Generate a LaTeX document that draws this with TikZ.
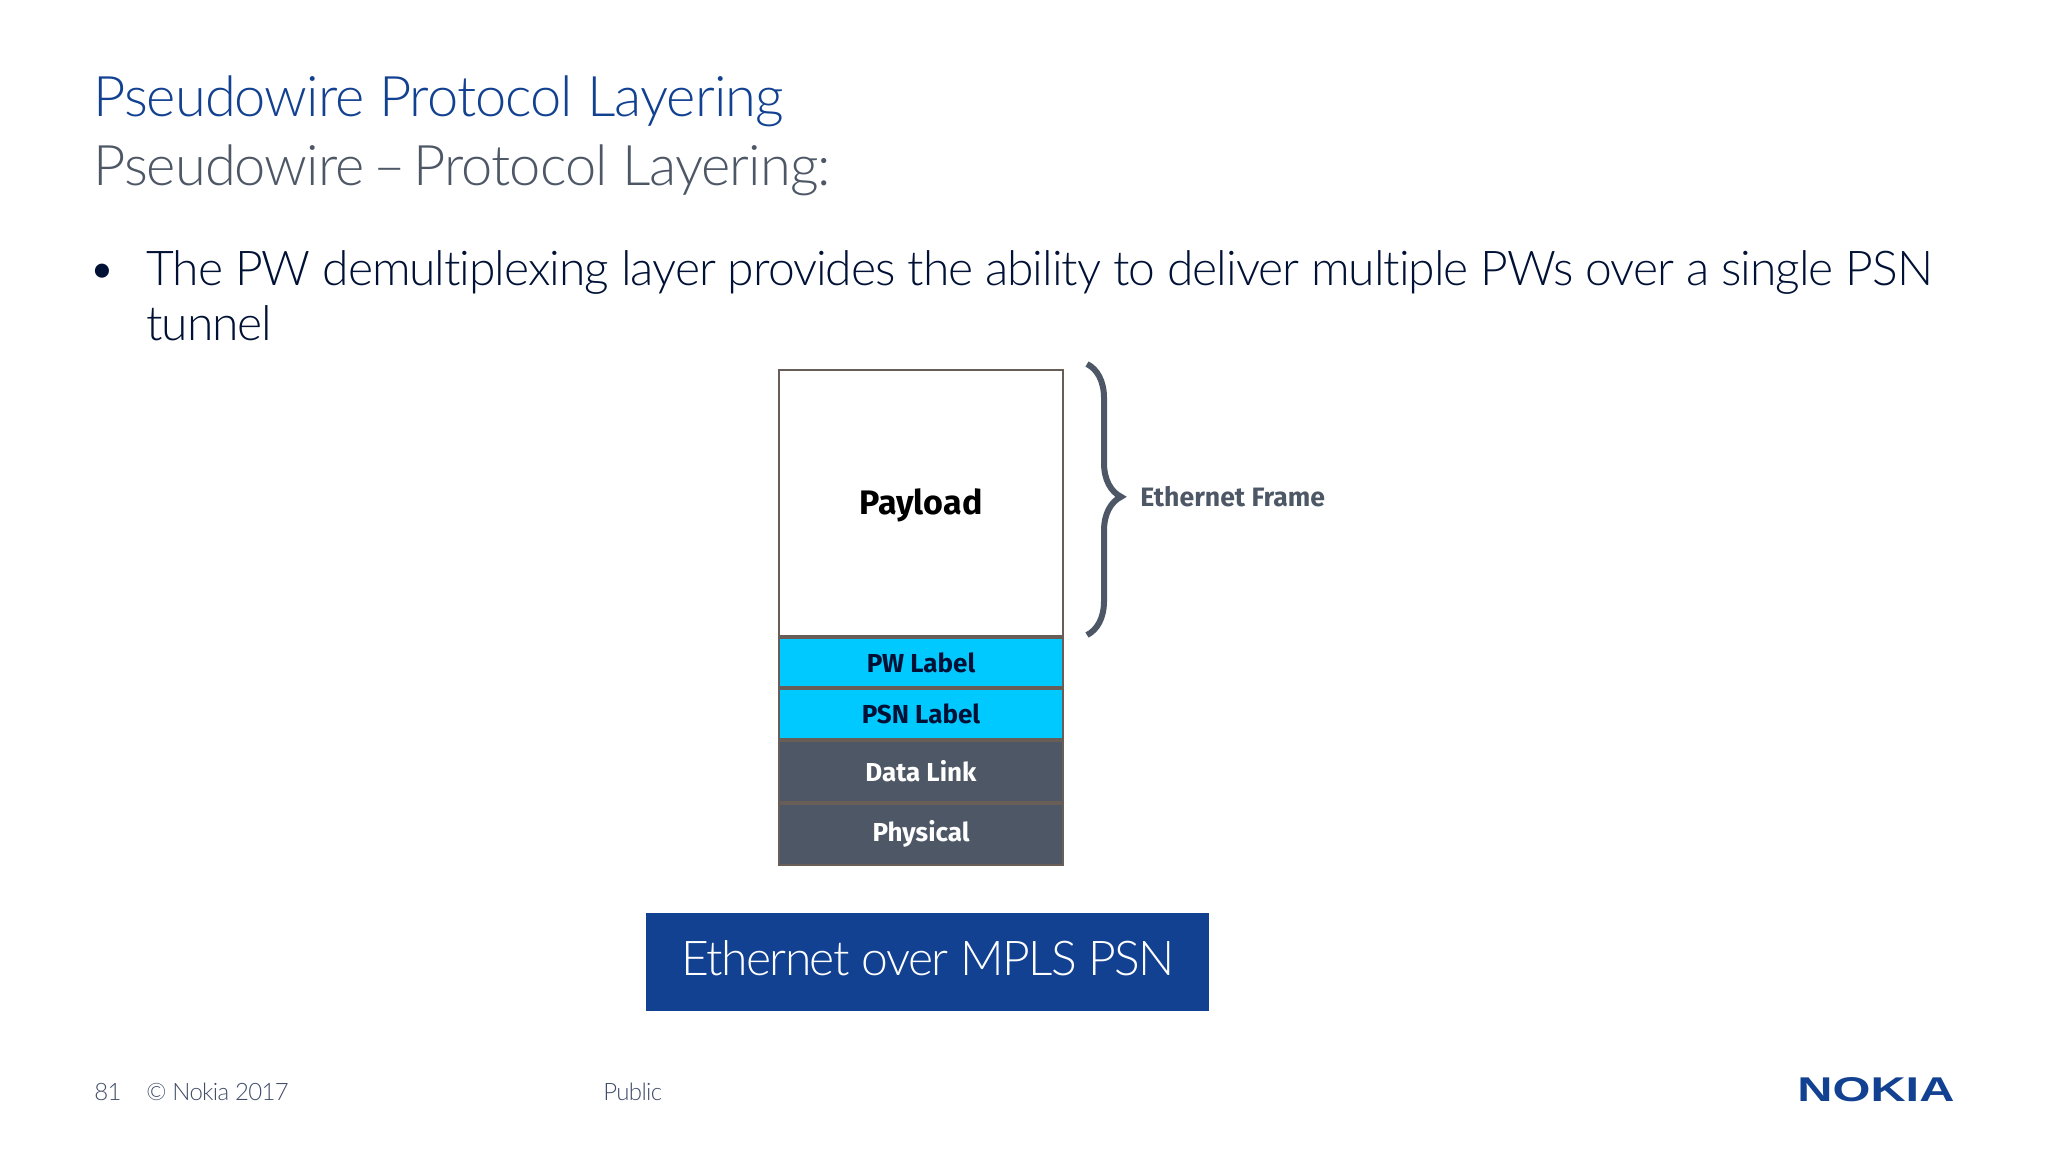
\documentclass[tikz,border=0pt]{standalone}
\usepackage{xcolor}
\usepackage{graphicx}
\usepackage{fontspec}
\setmainfont{Lato Light}[BoldFont={Lato Bold},Ligatures=NoCommon]
\newfontfamily\boldfont{Fira Sans}[UprightFont={* Bold}]
\newfontfamily\logofont{Liberation Sans}[UprightFont={* Bold}]
\usepackage{tikz}
\usetikzlibrary{matrix}
\usetikzlibrary{decorations.pathreplacing}
\definecolor{nokiablue}{HTML}{124191}
\definecolor{slatecolor}{HTML}{4D5766}
\definecolor{inkcolor}{HTML}{001135}
\definecolor{labelcolor}{HTML}{00C9FF}
\colorlet{rulecolor}{slatecolor!85!orange}
\tikzset{
	x=0.5pt, y=0.5pt
	,stack/.style={
		,matrix of nodes
		,inner sep		= 0pt
		,outer sep		= 0pt
		,row sep		= 0pt
		,column sep		= 0pt
		,nodes			= {rectangle, draw = rulecolor, line width = 1pt, minimum width = 142pt, inner sep = 0pt, outer sep = 0pt, align = center}
	}
	,payload/.style	 = {fill = white, text = black, minimum height = 133pt, text depth = 1pt, font = \boldfont\fontsize{17}{20}\selectfont}
	,pwlabel/.style	 = {fill = labelcolor, text = inkcolor, minimum height = 24.7pt, font = \boldfont\fontsize{13}{16}\selectfont}
	,linklayer/.style = {fill = slatecolor, text = white, minimum height = 30.5pt, font = \boldfont\fontsize{13}{16}\selectfont}
	,plain/.style	 = {inner sep = 0pt, anchor = base west}
	,footer/.style	 = {plain, text = inkcolor!75, font = \fontsize{12}{14}\selectfont\addfontfeature{LetterSpace=-2.8}}
	,heading/.style	 = {plain, font = \fontsize{28}{34}\selectfont\addfontfeature{LetterSpace=-1.7}}
	,bodytext/.style = {plain, text = inkcolor, font = \fontsize{24}{28}\selectfont\addfontfeature{LetterSpace=-2.2}}
}
\begin{document}
\begin{tikzpicture}
	\useasboundingbox (0,0) rectangle (2048,-1152);

	% the headings
	\node[heading, text = nokiablue] (title) at (93,-116) {Pseudowire Protocol Layering};
	\node[heading, text = slatecolor] (subtitle) at (93,-185) {Pseudowire\hspace{-3pt} -- \hspace{-3pt}Protocol Layering:};

	% the bullet text
	\node[bodytext] (bullet) at (88,-285) {•};
	\node[bodytext] (point) at (146,-285) {The PW demultiplexing layer provides the ability to deliver multiple PWs over a single PSN};
	\node[bodytext] (pointend) at (146,-340) {tunnel};

	% the layer stack
	\matrix (mat) [stack, anchor = north west] at (778,-369) {
	|[payload]|Payload\\
	|[pwlabel]|PW Label\\
	|[pwlabel]|PSN Label\\
	|[linklayer]|Data Link\\
	|[linklayer]|Physical\\
	};

	% the brace
	\draw[slatecolor, line width = 3pt, decorate, decoration = {brace, amplitude = 17pt, aspect = 0.49}]
		([xshift=12pt,yshift=3pt]mat-1-1.north east) -- ([xshift=12pt,yshift=.5pt]mat-1-1.south east);
	\node[plain, text = slatecolor, font = \boldfont\fontsize{13.3}{16}\selectfont] (frame) at (1140,-506) {Ethernet Frame};

	% the caption box
	\node[fill = nokiablue, text = white, minimum width = 281.5pt, minimum height = 49pt, inner sep = 0pt, text depth = 4pt, anchor = north west, font = \fontsize{24}{28}\selectfont\addfontfeature{LetterSpace=-3.2}] (caption) at (646,-913) {Ethernet over MPLS PSN};

	% the footer
	\node[footer] (page) at (94,-1100) {81};
	\node[footer] (copyright) at (146,-1100) {© Nokia 2017};
	\node[footer] (public) at (603,-1100) {Public};
	\node[plain, text = nokiablue] (logo) at (1797,-1101) {\resizebox{78.5pt}{12pt}{\logofont NOKIA}};
\end{tikzpicture}
\end{document}
